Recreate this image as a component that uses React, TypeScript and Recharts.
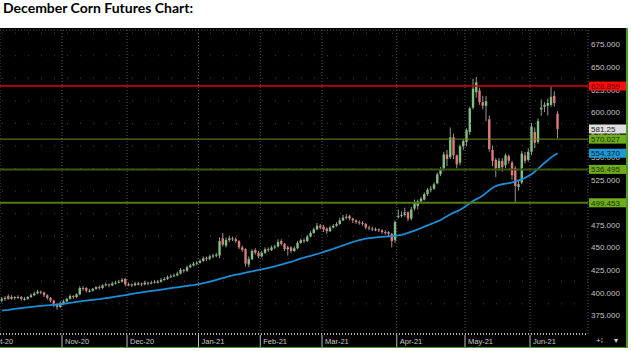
import React from 'react';
import { ComposedChart, Bar, Line, XAxis, YAxis, CartesianGrid, ReferenceLine } from 'recharts';

// daily bars, Oct 6 2020 -> Jun 11 2021 (index = trading day)
const opens = [
  391, 393, 396, 393, 395, 394, 395, 393, 393, 395,
  397, 399, 401, 400, 397, 394, 391, 386, 384, 388,
  390, 393, 396, 395, 398, 405, 405, 402, 402, 404,
  406, 405, 408, 409, 408, 410, 411, 412, 415, 409,
  409, 408, 410, 410, 409, 411, 410, 411, 412, 412,
  414, 415, 417, 418, 419, 421, 425, 424, 428, 430,
  432, 433, 435, 438, 437, 440, 441, 441, 460, 452,
  458, 460, 459, 457, 450, 448, 431, 437, 447, 444,
  440, 444, 448, 447, 450, 451, 457, 454, 448, 450,
  446, 449, 455, 458, 457, 462, 466, 470, 474, 473,
  471, 468, 472, 474, 476, 480, 483, 485, 482, 480,
  478, 477, 476, 472, 471, 470, 470, 469, 467, 467,
  465, 458, 484, 485, 486, 489, 482, 493, 496, 501,
  503, 509, 514, 515, 521, 531, 537, 553, 550, 572,
  552, 544, 562, 567, 578, 605, 622, 624, 611, 607,
  592, 558, 547, 538, 546, 541, 551, 544, 538, 517,
  522, 552, 547, 556, 578, 567, 603, 606, 607, 608,
  618, 598,
];
const highs = [
  395, 396, 398, 397, 396, 397, 396, 395, 396, 399,
  401, 403, 402, 401, 398, 395, 392, 388, 390, 392,
  394, 398, 397, 399, 407, 407, 406, 404, 405, 407,
  408, 409, 411, 410, 412, 413, 414, 416, 416, 411,
  410, 412, 412, 411, 413, 412, 413, 414, 414, 416,
  417, 419, 420, 421, 423, 427, 426, 430, 432, 434,
  435, 437, 440, 440, 442, 443, 444, 461, 466, 461,
  463, 462, 461, 458, 452, 449, 440, 448, 449, 446,
  446, 450, 450, 452, 453, 459, 459, 455, 452, 451,
  451, 457, 460, 460, 464, 468, 472, 477, 476, 475,
  472, 474, 476, 478, 483, 486, 487, 486, 483, 481,
  480, 479, 477, 474, 473, 472, 471, 470, 469, 468,
  466, 480, 492, 490, 494, 490, 495, 503, 503, 506,
  511, 516, 518, 522, 533, 539, 556, 558, 583, 576,
  553, 564, 570, 582, 606, 637, 639, 627, 618, 618,
  596, 563, 549, 549, 549, 554, 553, 546, 540, 524,
  557, 556, 560, 588, 583, 593, 614, 611, 615, 628,
  623, 601,
];
const lows = [
  389, 391, 392, 392, 392, 393, 391, 391, 392, 394,
  396, 398, 398, 395, 392, 389, 384, 381, 383, 386,
  389, 392, 393, 394, 397, 402, 400, 400, 401, 403,
  403, 404, 407, 406, 407, 409, 410, 411, 407, 407,
  406, 407, 408, 407, 408, 408, 409, 410, 410, 411,
  413, 414, 416, 417, 418, 420, 422, 423, 427, 429,
  430, 432, 434, 435, 436, 438, 439, 438, 451, 450,
  456, 457, 455, 448, 445, 429, 428, 436, 442, 438,
  439, 443, 445, 446, 448, 450, 452, 446, 441, 444,
  445, 448, 454, 455, 456, 461, 465, 469, 470, 467,
  465, 467, 471, 473, 475, 479, 481, 480, 477, 476,
  475, 474, 470, 469, 468, 468, 467, 465, 464, 462,
  450, 455, 482, 483, 484, 479, 480, 491, 492, 499,
  502, 507, 511, 514, 520, 529, 535, 540, 548, 548,
  538, 541, 558, 562, 575, 603, 616, 608, 603, 590,
  556, 540, 528, 535, 534, 538, 543, 525, 500, 513,
  520, 543, 545, 552, 560, 565, 596, 600, 596, 606,
  606, 571,
];
const closes = [
  393, 394, 393, 395, 394, 395, 393, 393, 395, 397,
  399, 401, 400, 397, 394, 391, 386, 384, 388, 390,
  393, 396, 395, 398, 405, 404, 402, 402, 404, 406,
  405, 408, 409, 408, 410, 411, 412, 414, 409, 409,
  408, 410, 410, 409, 411, 410, 411, 412, 412, 414,
  415, 417, 418, 419, 421, 425, 424, 428, 430, 432,
  433, 435, 438, 437, 440, 441, 442, 457, 453, 458,
  460, 459, 457, 450, 447, 432, 437, 446, 444, 440,
  444, 448, 447, 450, 451, 456, 454, 448, 450, 446,
  449, 455, 458, 457, 462, 466, 470, 474, 472, 470,
  468, 472, 474, 476, 480, 483, 484, 482, 480, 478,
  477, 476, 472, 471, 470, 470, 469, 467, 466, 465,
  457, 478, 485, 486, 489, 482, 492, 500, 501, 504,
  509, 514, 515, 520, 531, 536, 553, 548, 572, 552,
  542, 562, 568, 580, 604, 626, 633, 611, 607, 612,
  559, 546, 537, 546, 539, 552, 546, 530, 518, 520,
  554, 546, 556, 584, 566, 590, 605, 608, 610, 617,
  610, 581.25,
];
// blue moving average
const movingAvg = [
  380, 380.4, 380.8, 381.3, 381.8, 382.3, 382.8, 383.2, 383.6, 384,
  384.4, 384.8, 385.2, 385.5, 385.8, 386.1, 386.4, 386.7, 387, 387.5,
  388, 388.5, 389, 389.6, 390.2, 390.7, 391.1, 391.5, 391.9, 392.3,
  392.7, 393.2, 393.7, 394.2, 394.8, 395.4, 396, 396.6, 397.2, 397.8,
  398.4, 399, 399.6, 400.2, 400.7, 401.2, 401.7, 402.2, 402.7, 403.2,
  403.7, 404.3, 404.8, 405.3, 405.8, 406.3, 406.8, 407.3, 407.8, 408.3,
  408.9, 409.5, 410.3, 411.1, 412, 413, 414, 415, 416, 417,
  418.1, 419, 419.8, 420.5, 421.3, 422, 422.8, 423.5, 424.3, 425,
  425.7, 426.5, 427.3, 428.2, 429.1, 430, 431, 432, 433, 434,
  435.2, 436.5, 437.8, 438.8, 439.7, 440.5, 441.6, 442.7, 443.8, 445,
  446.2, 447.3, 448.5, 449.8, 451, 452.3, 453.5, 454.8, 456, 457.1,
  458.1, 459, 459.7, 460.2, 460.6, 461, 461.4, 461.7, 462, 462.3,
  462.6, 462.9, 463.3, 464, 465, 466.2, 467.4, 468.6, 470, 471.5,
  473, 474.4, 475.9, 477.3, 478.8, 480.4, 482.5, 484.6, 486.8, 488.5,
  490, 491.8, 494, 496.5, 499.2, 501.5, 503.5, 505.3, 507.5, 510.5,
  513.5, 516.2, 518, 519.2, 520, 520.7, 521.2, 522, 523.2, 524.3,
  525.3, 527.2, 529.2, 531.2, 534.2, 537.4, 540.6, 543.8, 546.8, 549.8,
  552.2, 554.37,
];

const monthLabels = ['Oct-20', 'Nov-20', 'Dec-20', 'Jan-21', 'Feb-21', 'Mar-21', 'Apr-21', 'May-21', 'Jun-21'];
const monthStarts = [-4.4, 18.5, 38.5, 60.5, 79.5, 98.5, 121.5, 142.5, 162.5];
const priceTicks = [375, 400, 425, 450, 475, 500, 525, 550, 575, 600, 625, 650, 675];
const minorLevels = [387.5, 412.5, 437.5, 462.5, 487.5, 512.5, 537.5, 562.5, 587.5, 612.5, 637.5, 662.5, 687.5];
const levelValues = [628.859, 570.027, 536.495, 499.453];

const levelStyles = [
  { stroke: '#e00000', width: 1.5, box: '#ff0d0d', text: '#5c0000' },
  { stroke: '#6f8a26', width: 1, box: '#6fae1a', text: '#1d2a00' },
  { stroke: '#3b5710', width: 2, box: '#6fae1a', text: '#1d2a00' },
  { stroke: '#557a14', width: 2, box: '#6fae1a', text: '#1d2a00' },
];

const data = closes.map((c, i) => ({
  i,
  open: opens[i],
  high: highs[i],
  low: lows[i],
  close: c,
  ma: movingAvg[i],
}));

const FONT = "'Liberation Sans', Arial, sans-serif";

function Candle(props: any) {
  const { x, y, width, height, payload } = props;
  if (!payload || height == null) return null;
  const top = Math.min(y, y + height);
  const bottom = Math.max(y, y + height);
  const { open, close, high, low } = payload;
  const span = high - low || 1;
  const toY = (v: number) => top + ((high - v) / span) * (bottom - top);
  const cx = x + width / 2;
  const bodyTop = toY(Math.max(open, close));
  const bodyBottom = toY(Math.min(open, close));
  const fill = close > open ? '#80c080' : close < open ? '#e07a7a' : '#bdbdbd';
  return (
    <g>
      <line x1={cx} x2={cx} y1={top} y2={bottom} stroke="#959595" strokeWidth={1} />
      <rect x={cx - 1.2} y={bodyTop} width={2.4} height={Math.max(bodyBottom - bodyTop, 1)} fill={fill} />
    </g>
  );
}

// coloured value box at the right edge of a level
function Tag(props: any) {
  const { viewBox, text, fill, color } = props;
  if (!viewBox) return null;
  const x = viewBox.x + viewBox.width + 1;
  const y = viewBox.y;
  return (
    <g>
      <rect x={x} y={y - 4.5} width={38} height={9} fill={fill} />
      <text x={x + 2} y={y + 0.5} fontSize={8} fill={color} dominantBaseline="central" fontFamily={FONT}>
        {text}
      </text>
    </g>
  );
}

// price axis text, drawn as a reference label so the value boxes can sit on top of it
function PriceLabel(props: any) {
  const { viewBox, value } = props;
  if (!viewBox) return null;
  return (
    <text
      x={viewBox.x + viewBox.width + 3}
      y={viewBox.y + 0.5}
      fontSize={8}
      fill="#c2c2c2"
      dominantBaseline="central"
      fontFamily={FONT}
    >
      {value.toFixed(3)}
    </text>
  );
}

function MonthTick(props: any) {
  const { x, y, payload } = props;
  const label = monthLabels[monthStarts.indexOf(payload.value)];
  return (
    <g>
      <line x1={x} x2={x} y1={y + 1} y2={y + 13} stroke="#bdbdbd" strokeWidth={1} />
      <text x={x + 3} y={y + 10} fontSize={7.5} fill="#c8c8c8" fontFamily={FONT}>
        {label}
      </text>
    </g>
  );
}

export default function App() {
  const lastClose = closes[closes.length - 1];
  const lastMa = movingAvg[movingAvg.length - 1];
  return (
    <div style={{ position: 'absolute', left: 0, top: 0, width: 631, height: 351, background: '#fff' }}>
      <div
        style={{
          position: 'absolute',
          left: 3,
          top: 1,
          fontFamily: 'Lato, sans-serif',
          fontWeight: 700,
          fontSize: 14,
          lineHeight: '14px',
          color: '#000',
        }}
      >
        December Corn Futures Chart:
      </div>
      <div
        style={{
          position: 'absolute',
          left: 0,
          top: 28,
          width: 626,
          height: 319,
          background: '#000',
          borderRight: '2px solid #4f9a2a',
          borderBottom: '1px solid #4f9a2a',
        }}
      >
        <ComposedChart width={626} height={319} data={data} margin={{ top: 2, right: 0, left: 0, bottom: 0 }}>
          <CartesianGrid stroke="#565656" strokeDasharray="1 2" />
          {minorLevels.map((v) => (
            <ReferenceLine key={v} y={v} stroke="#444" strokeDasharray="1 12" />
          ))}
          <XAxis
            dataKey="i"
            type="number"
            domain={[-0.585, 180.34]}
            allowDataOverflow
            ticks={monthStarts}
            interval={0}
            height={13}
            tickSize={0}
            tickMargin={0}
            tickLine={false}
            axisLine={{ stroke: '#b0b0b0', strokeWidth: 2, strokeDasharray: '1 2' }}
            tick={<MonthTick />}
          />
          <YAxis
            orientation="right"
            domain={[354, 691]}
            allowDataOverflow
            ticks={priceTicks}
            interval={0}
            width={38}
            axisLine={false}
            tickLine={false}
            tick={false}
          />
          <Bar
            dataKey={(d: any) => [d.low, d.high]}
            barSize={3}
            shape={(p: any) => <Candle {...p} />}
            isAnimationActive={false}
          />
          <Line dataKey="ma" stroke="#1a8fd5" strokeWidth={1.8} dot={false} isAnimationActive={false} />
          {priceTicks.map((v) => (
            <ReferenceLine key={'t' + v} y={v} stroke="none" strokeOpacity={0} label={<PriceLabel value={v} />} />
          ))}
          {levelValues.map((v, k) => (
            <ReferenceLine
              key={v}
              y={v}
              stroke={levelStyles[k].stroke}
              strokeWidth={levelStyles[k].width}
              label={<Tag text={v.toFixed(3)} fill={levelStyles[k].box} color={levelStyles[k].text} />}
            />
          ))}
          <ReferenceLine
            y={lastClose}
            stroke="none"
            strokeOpacity={0}
            label={<Tag text={lastClose.toFixed(2)} fill="#dedede" color="#1a1a1a" />}
          />
          <ReferenceLine
            y={lastMa}
            stroke="none"
            strokeOpacity={0}
            label={<Tag text={lastMa.toFixed(3)} fill="#1d99d6" color="#0a2233" />}
          />
        </ComposedChart>
      </div>
      <div
        style={{
          position: 'absolute',
          left: 596,
          top: 336,
          fontSize: 8,
          color: '#cfcfcf',
          fontFamily: FONT,
          lineHeight: '10px',
        }}
      >
        +⁞&nbsp;&nbsp;&nbsp;&nbsp;&nbsp;▾
      </div>
    </div>
  );
}
